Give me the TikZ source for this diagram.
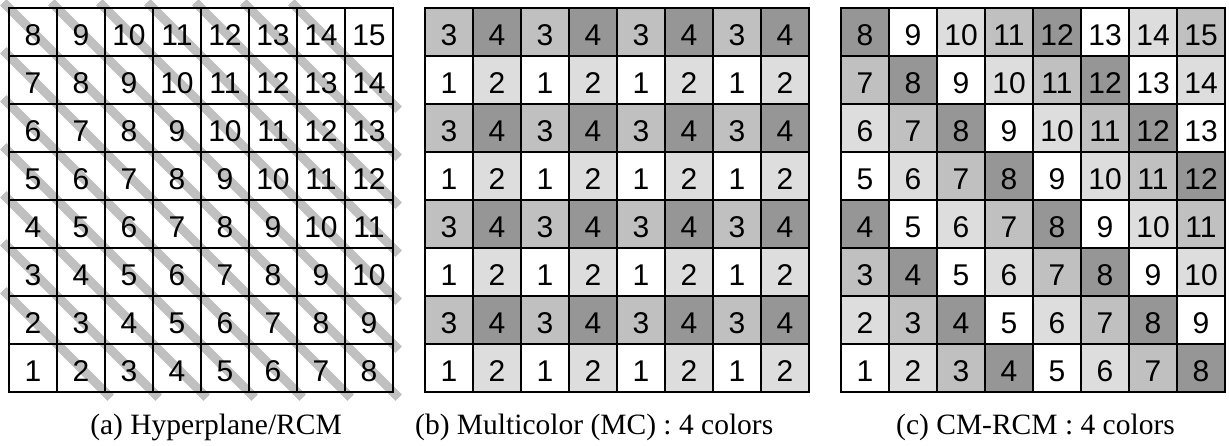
\documentclass[tikz,border=0pt]{standalone}
\usepackage{fontspec}
\setmainfont{Liberation Serif}
\newfontfamily\cellfont{Liberation Sans}
\pgfdeclarelayer{bottom}
\pgfdeclarelayer{stripes}
\pgfsetlayers{bottom,stripes,main}
\definecolor{col1}{HTML}{FFFFFF}
\definecolor{col2}{HTML}{DDDDDD}
\definecolor{col3}{HTML}{C0C0C0}
\definecolor{col4}{HTML}{969696}
\definecolor{stripecol}{HTML}{C0C0C0}
\begin{document}
\begin{tikzpicture}[x=1pt,y=1pt,
  cellbox/.style={draw=black, line width=2.7pt, minimum width=48pt, minimum height=48pt,
    inner sep=0pt, outer sep=0pt, font={\cellfont\fontsize{30}{32}\selectfont},
    text height=27.2pt, text depth=0pt},
  stripeln/.style={draw=stripecol, line width=9pt, shorten <=-8pt, shorten >=-8pt},
  captxt/.style={font={\fontsize{29.5}{31}\selectfont}, inner sep=0pt}]
\useasboundingbox (0,0) rectangle (1229,-445);
\begin{pgfonlayer}{bottom}
  \fill[white] (0,0) rectangle (1229,-445);
\end{pgfonlayer}
% (a) Hyperplane/RCM
\foreach \r in {0,...,7}{
  \foreach \c in {0,...,7}{
    \pgfmathtruncatemacro\v{8+\c-\r}
    \node[cellbox] (a-\c-\r) at ({9+48*\c+24},{-(8+48*\r+24)}) {\v};
  }
}
\begin{pgfonlayer}{stripes}
  \foreach \v in {2,...,14}{
    \ifnum\v<8
      \pgfmathtruncatemacro\ra{8-\v}
      \pgfmathtruncatemacro\cb{\v-1}
      \draw[stripeln] (a-0-\ra.north west) -- (a-\cb-7.south east);
    \else
      \pgfmathtruncatemacro\ca{\v-8}
      \pgfmathtruncatemacro\rb{15-\v}
      \draw[stripeln] (a-\ca-0.north west) -- (a-7-\rb.south east);
    \fi
  }
\end{pgfonlayer}
% (b) Multicolor
\foreach \r in {0,...,7}{
  \foreach \c in {0,...,7}{
    \pgfmathtruncatemacro\bv{ifthenelse(mod(\r,2)==0,3,1)+mod(\c,2)}
    \node[cellbox, fill=col\bv] (b-\c-\r) at ({425+48*\c+24},{-(8+48*\r+24)}) {\bv};
  }
}
% (c) CM-RCM
\foreach \r in {0,...,7}{
  \foreach \c in {0,...,7}{
    \pgfmathtruncatemacro\v{8+\c-\r}
    \pgfmathtruncatemacro\k{mod(\v-1,4)+1}
    \node[cellbox, fill=col\k] (c-\c-\r) at ({841+48*\c+24},{-(8+48*\r+24)}) {\v};
  }
}
\node[captxt, anchor=base east] (capa) at (342,-434) {(a) Hyperplane/RCM};
\node[captxt, anchor=base west] (capb) at (415,-434) {(b) Multicolor (MC) : 4 colors};
\node[captxt, anchor=base east] (capc) at (1175,-434) {(c) CM-RCM : 4 colors};
\end{tikzpicture}
\end{document}
